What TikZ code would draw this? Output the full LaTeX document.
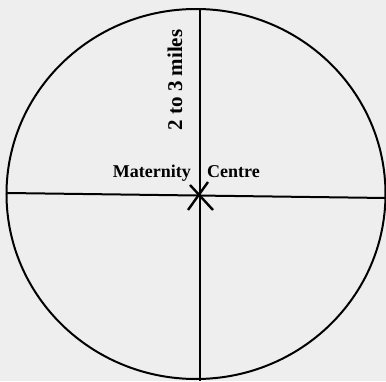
\documentclass[tikz,border=0pt]{standalone}
\usepackage{fontspec}
\setmainfont{Liberation Serif}
\definecolor{paper}{RGB}{238,238,239}
\begin{document}
\begin{tikzpicture}[x=1pt,y=1pt,
  stroke/.style={line width=2pt,black},
  lbl/.style={inner sep=0pt,font=\fontsize{18}{18}\selectfont\bfseries}]
\fill[paper] (0,0) rectangle (386,381);
\useasboundingbox (0,0) rectangle (386,381);
\coordinate (c) at (199.5,185.5);
\coordinate (ctr) at (196,187);
\coordinate (vt) at (199.5,371.5);
\coordinate (vb) at (199.5,0);
\coordinate (hl) at (7,188);
\coordinate (hr) at (386,183);
\coordinate (x1a) at (190,196);
\coordinate (x1b) at (213,171);
\coordinate (x2a) at (208,199);
\coordinate (x2b) at (188,171);
\draw[stroke] (ctr) ellipse [x radius=189.5, y radius=185];
\draw[stroke] (vt) -- (vb);
\draw[stroke] (hl) -- (hr);
\draw[stroke,line width=2.4pt] (x1a) -- (x1b);
\draw[stroke,line width=2.4pt] (x2a) -- (x2b);
\node[lbl,anchor=base east] (mat) at (191,204) {Maternity};
\node[lbl,anchor=base west] (cen) at (207,204) {Centre};
\node[lbl,font=\fontsize{21}{21}\selectfont\bfseries,rotate=90,anchor=base] (miles) at (182,301) {2 to 3 miles};
\end{tikzpicture}
\end{document}
